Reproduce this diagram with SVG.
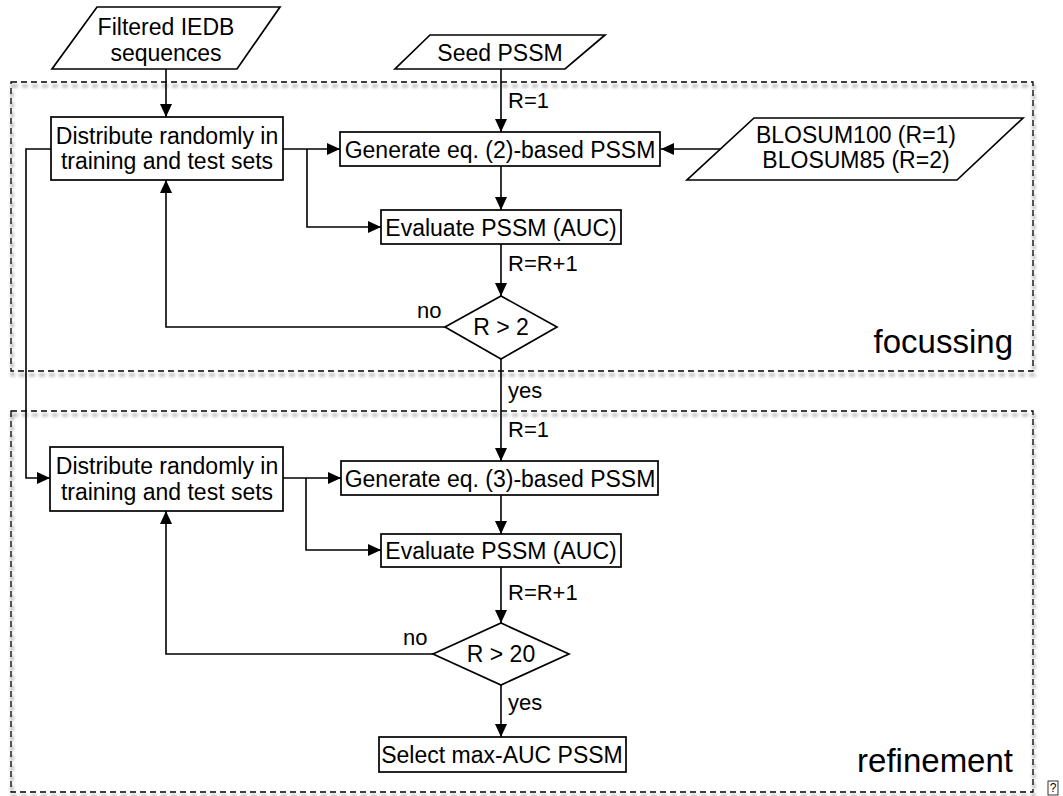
<svg xmlns="http://www.w3.org/2000/svg" width="1063" height="796" viewBox="0 0 1063 796">
<defs>
<marker id="arr" markerUnits="userSpaceOnUse" markerWidth="14" markerHeight="12" refX="13" refY="6" orient="auto">
<path d="M0,0 L13,6 L0,12 Z" fill="#000"/>
</marker>
<filter id="blur" x="-5%" y="-5%" width="110%" height="110%"><feGaussianBlur stdDeviation="1.6"/></filter>
</defs>
<style>
text{font-family:"Liberation Sans",Arial,sans-serif;fill:#000}
.n{font-size:23px;text-anchor:middle}
.l{font-size:22px}
.big{font-size:33px;text-anchor:end}
.box{fill:#fff;stroke:#000;stroke-width:1.7}
.c{fill:none;stroke:#000;stroke-width:1.6}
.ca{fill:none;stroke:#000;stroke-width:1.6;marker-end:url(#arr)}
.grp{fill:none;stroke:#000;stroke-width:1.3;stroke-dasharray:6,4}
.sh{fill:none;stroke:#b8b8b8;stroke-width:3;stroke-dasharray:6,4;filter:url(#blur)}
</style>
<rect width="1063" height="796" fill="#fff"/>
<g id="focussing-group">
<rect class="sh" x="12" y="86" width="1022" height="289"/>
<rect class="grp" x="11" y="82" width="1022" height="289"/>
<text class="big" x="1013" y="353">focussing</text>
</g>
<g id="refinement-group">
<rect class="sh" x="12" y="415" width="1022" height="381"/>
<rect class="grp" x="11" y="411" width="1022" height="381"/>
<text class="big" x="1013" y="772">refinement</text>
</g>
<g id="connectors">
<path class="ca" d="M166,69 V117"/>
<path class="ca" d="M501,69 V132"/>
<path class="ca" d="M720,149 H661"/>
<path class="ca" d="M283,149 H340"/>
<path class="ca" d="M307,149 V227 H381"/>
<path class="ca" d="M501,166 V210"/>
<path class="ca" d="M501,244 V296"/>
<path class="ca" d="M445,327 H166 V180"/>
<path class="ca" d="M501,359 V461"/>
<path class="ca" d="M51,149 H26 V478 H50"/>
<path class="ca" d="M283,478 H341"/>
<path class="ca" d="M306,478 V550 H381"/>
<path class="ca" d="M501,495 V534"/>
<path class="ca" d="M501,567 V623"/>
<path class="ca" d="M433,654 H166 V511"/>
<path class="ca" d="M501,685 V737"/>
<text class="l" x="508" y="108">R=1</text>
<text class="l" x="508" y="271">R=R+1</text>
<text class="l" x="417" y="318">no</text>
<text class="l" x="508" y="398">yes</text>
<text class="l" x="508" y="437">R=1</text>
<text class="l" x="508" y="600">R=R+1</text>
<text class="l" x="403" y="645">no</text>
<text class="l" x="508" y="710">yes</text>
</g>
<g id="filtered-iedb">
<polygon class="box" points="97,7 280,7 237,69 52,69"/>
<text class="n" x="166" y="35">Filtered IEDB</text>
<text class="n" x="166" y="61">sequences</text>
</g>
<g id="seed-pssm">
<polygon class="box" points="430,35 605,35 565,69 395,69"/>
<text class="n" x="500" y="61">Seed PSSM</text>
</g>
<g id="blosum">
<polygon class="box" points="754,118 1023,118 957,180 687,180"/>
<text class="n" x="856" y="143">BLOSUM100 (R=1)</text>
<text class="n" x="856" y="168">BLOSUM85 (R=2)</text>
</g>
<g id="distribute-1">
<rect class="box" x="51" y="117" width="232" height="63"/>
<text class="n" x="167" y="144">Distribute randomly in</text>
<text class="n" x="167" y="169">training and test sets</text>
</g>
<g id="generate-2">
<rect class="box" x="340" y="132" width="320" height="34"/>
<text class="n" x="500" y="158">Generate eq. (2)-based PSSM</text>
</g>
<g id="evaluate-1">
<rect class="box" x="381" y="210" width="240" height="34"/>
<text class="n" x="501" y="236">Evaluate PSSM (AUC)</text>
</g>
<g id="decision-1">
<polygon class="box" points="445,327 501,296 557,327 501,359"/>
<text class="n" x="501" y="335">R &gt; 2</text>
</g>
<g id="distribute-2">
<rect class="box" x="50" y="447" width="233" height="64"/>
<text class="n" x="167" y="474">Distribute randomly in</text>
<text class="n" x="167" y="500">training and test sets</text>
</g>
<g id="generate-3">
<rect class="box" x="341" y="461" width="317" height="34"/>
<text class="n" x="500" y="487">Generate eq. (3)-based PSSM</text>
</g>
<g id="evaluate-2">
<rect class="box" x="381" y="534" width="240" height="33"/>
<text class="n" x="501" y="559">Evaluate PSSM (AUC)</text>
</g>
<g id="decision-2">
<polygon class="box" points="433,654 501,623 569,654 501,685"/>
<text class="n" x="501" y="662">R &gt; 20</text>
</g>
<g id="select">
<rect class="box" x="379" y="737" width="247" height="35"/>
<text class="n" x="502" y="763">Select max-AUC PSSM</text>
</g>
<g id="glyph-box">
<rect x="1048" y="781" width="10" height="14" fill="#fff" stroke="#000" stroke-width="0.8"/>
<text x="1053" y="792" style="font-size:12px;text-anchor:middle">?</text>
</g>
</svg>
